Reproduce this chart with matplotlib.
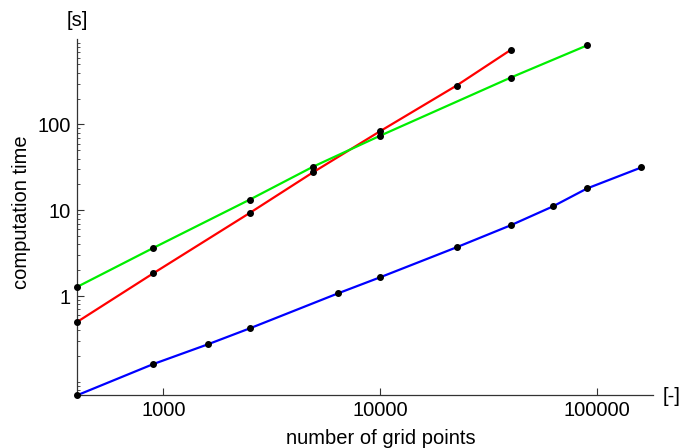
import matplotlib
matplotlib.use("Agg")
import matplotlib.pyplot as plt
from matplotlib.ticker import LogLocator, NullFormatter, FixedLocator

plt.rcParams['font.family'] = ['Liberation Sans', 'DejaVu Sans']

red_x = [400, 900, 2500, 4900, 10000, 22500, 40000]
red_y = [0.5, 1.85, 9.3, 27.7, 83.6, 284, 740]
green_x = [400, 900, 2500, 4900, 10000, 40000, 90000]
green_y = [1.28, 3.65, 13.3, 32.2, 74, 352, 835]
blue_x = [400, 900, 1600, 2500, 6400, 10000, 22500, 40000, 62500, 90000, 160000]
blue_y = [0.07, 0.162, 0.274, 0.421, 1.08, 1.66, 3.71, 6.7, 11.1, 18, 31.6]

x_ticks = [1000, 10000, 100000]
x_ticklabels = ["1000", "10000", "100000"]
y_ticks = [1, 10, 100]
y_ticklabels = ["1", "10", "100"]

FS = 14.5

fig = plt.figure(figsize=(6.86, 4.48), dpi=100)
ax = fig.add_axes([77/686, 53/448, (653-77)/686, (409-53)/448])
ax.set_xscale('log')
ax.set_yscale('log')

for xs, ys, c in [(red_x, red_y, '#ff0000'), (green_x, green_y, '#00ee00'), (blue_x, blue_y, '#0000ff')]:
    ax.plot(xs, ys, color=c, lw=1.6, zorder=2, solid_capstyle='butt')
    ax.plot(xs, ys, 'o', color='black', ms=4, zorder=3, clip_on=False)

ax.set_xlim(400, 181000)
ax.set_ylim(0.0706, 990)

for s in ['top', 'right']:
    ax.spines[s].set_visible(False)
for s in ['left', 'bottom']:
    ax.spines[s].set_color('#333333')
    ax.spines[s].set_linewidth(0.9)

ax.xaxis.set_major_locator(FixedLocator(x_ticks))
ax.set_xticklabels(x_ticklabels)
ax.xaxis.set_minor_locator(FixedLocator([]))
ax.yaxis.set_major_locator(FixedLocator(y_ticks))
ax.set_yticklabels(y_ticklabels)
ax.yaxis.set_minor_locator(LogLocator(base=10, subs=range(1, 10), numticks=20))
ax.yaxis.set_minor_formatter(NullFormatter())

ax.tick_params(axis='both', which='major', direction='in', length=5, width=0.8,
               labelsize=FS, color='#333333', pad=4.5)
ax.tick_params(axis='both', which='minor', direction='in', length=2.5, width=0.6, color='#333333')

ax.set_xlabel('number of grid points', fontsize=FS)
ax.xaxis.set_label_coords(0.527, -43/356)
ax.xaxis.label.set_va('center')
ax.set_ylabel('computation time', fontsize=FS)
ax.yaxis.set_label_coords(-55/576, 0.513)
ax.yaxis.label.set_va('center')

fig.text(77.5/686, 1 - 20/448, '[s]', fontsize=FS, ha='center', va='center')
fig.text(672/686, 1 - 396/448, '[-]', fontsize=FS, ha='center', va='center')

fig.savefig('out.png', dpi=100)
